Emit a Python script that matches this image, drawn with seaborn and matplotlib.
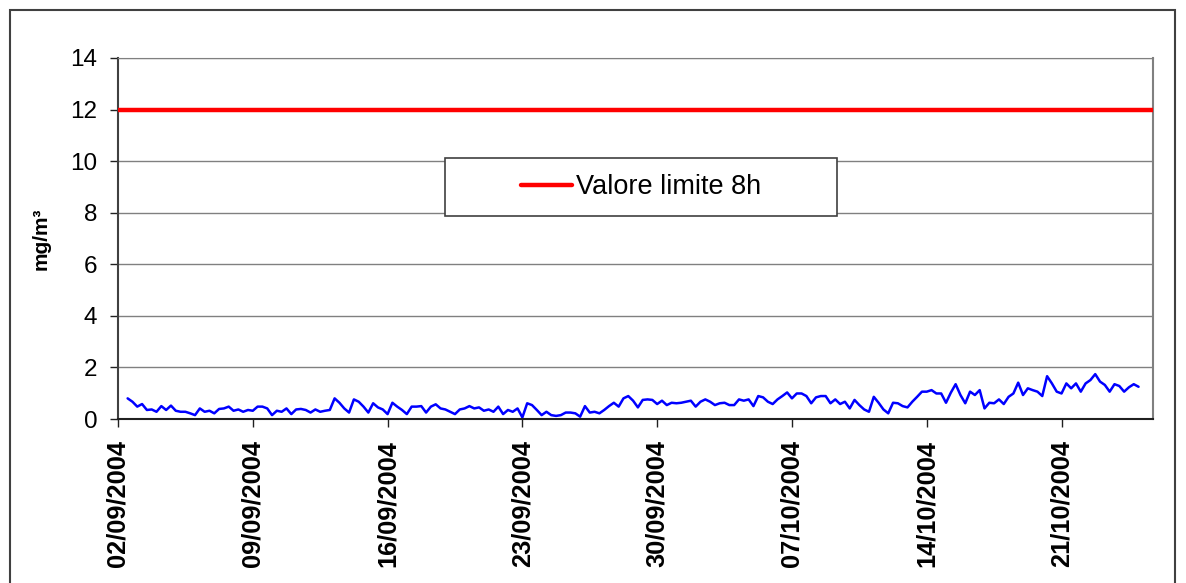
import pandas as pd
import matplotlib
matplotlib.use("Agg")
import matplotlib.pyplot as plt
import matplotlib.dates as mdates
from matplotlib.patches import Rectangle
import seaborn as sns

# 8h mean CO values (mg/m3), read every 6 hours from 02/09/2004 12:00
co_part1 = [0.80, 0.67, 0.48, 0.58, 0.35, 0.37, 0.28, 0.50, 0.35, 0.52,
            0.32, 0.28, 0.28, 0.22, 0.15, 0.41, 0.28, 0.32, 0.22, 0.39,
            0.41, 0.48, 0.32, 0.37, 0.28, 0.35, 0.32, 0.48, 0.48, 0.41,
            0.15, 0.32, 0.28, 0.41, 0.19, 0.37, 0.39, 0.35, 0.25, 0.37,
            0.28]
co_part2 = [0.32, 0.35, 0.80, 0.63, 0.41, 0.25, 0.76, 0.67, 0.48, 0.25,
            0.61, 0.45, 0.37, 0.19, 0.63, 0.48, 0.35, 0.19, 0.48, 0.48,
            0.50, 0.25, 0.48, 0.57, 0.41, 0.37, 0.28, 0.19, 0.37, 0.41,
            0.50, 0.41, 0.45, 0.32, 0.37, 0.28, 0.48, 0.19, 0.35, 0.28,
            0.41, 0.06]
co_part3 = [0.61, 0.54, 0.35, 0.15, 0.28, 0.15, 0.12, 0.15, 0.25, 0.25,
            0.22, 0.09, 0.50, 0.25, 0.28, 0.22, 0.35, 0.50, 0.63, 0.48,
            0.80, 0.89, 0.71, 0.45, 0.74, 0.76, 0.74, 0.58, 0.71, 0.54,
            0.63, 0.61, 0.63, 0.67, 0.71, 0.48, 0.67, 0.76, 0.67, 0.54,
            0.61, 0.63, 0.54]
co_part4 = [0.54, 0.76, 0.71, 0.76, 0.50, 0.89, 0.84, 0.67, 0.58, 0.76,
            0.89, 1.03, 0.80, 0.99, 0.99, 0.89, 0.61, 0.84, 0.89, 0.89,
            0.61, 0.76, 0.58, 0.67, 0.41, 0.74, 0.54, 0.37, 0.28, 0.86,
            0.63, 0.37, 0.22, 0.63, 0.61, 0.50, 0.45, 0.67, 0.86, 1.06,
            1.06, 1.12, 0.99]
co_part5 = [0.99, 0.63, 1.02, 1.35, 0.93, 0.61, 1.06, 0.93, 1.12, 0.41,
            0.63, 0.61, 0.76, 0.58, 0.86, 0.99, 1.41, 0.93, 1.19, 1.12,
            1.06, 0.89, 1.66, 1.38, 1.06, 0.99, 1.38, 1.19, 1.38, 1.06,
            1.38, 1.51, 1.74, 1.45, 1.32, 1.06, 1.35, 1.28, 1.06, 1.23,
            1.35, 1.25]
co_values = co_part1 + co_part2 + co_part3 + co_part4 + co_part5
start_time = "2004-09-02 12:00"
limit_value = 12
limit_label = "Valore limite 8h"
x_start = pd.Timestamp("2004-09-02 00:00")
x_end = pd.Timestamp("2004-10-25 18:00")
tick_dates = pd.date_range("2004-09-02", periods=8, freq="7D")

times = pd.date_range(start_time, periods=len(co_values), freq="6h")
df = pd.DataFrame({"time": times, "co": co_values})
limit_df = pd.DataFrame({"time": [x_start, x_end], "limit": [limit_value, limit_value]})

sns.set_style("white")
plt.rcParams["font.family"] = ["Liberation Sans", "DejaVu Sans"]
plt.rcParams["text.color"] = "black"
plt.rcParams["xtick.color"] = "black"
plt.rcParams["ytick.color"] = "black"
plt.rcParams["axes.labelcolor"] = "black"

W, H = 1186, 583
fig = plt.figure(figsize=(W / 100, H / 100), dpi=100)
ax = fig.add_axes([118 / W, 1 - 419 / H, (1153 - 118) / W, (419 - 58) / H])

sns.lineplot(data=limit_df, x="time", y="limit", ax=ax, color="#ff0000", lw=3.2,
             label=limit_label, zorder=3)
sns.lineplot(data=df, x="time", y="co", ax=ax, color="#0000ff", lw=1.8, zorder=2)

ax.set_xlim(x_start, x_end)
ax.set_ylim(0, 14)
ax.set_yticks(range(0, 15, 2))
ax.set_xticks(tick_dates)
ax.xaxis.set_major_formatter(mdates.DateFormatter("%d/%m/%Y"))
ax.yaxis.grid(True, color="#808080", lw=1)
ax.xaxis.grid(False)

for lab in ax.get_xticklabels():
    lab.set_rotation(90)
    lab.set_fontweight("bold")
    lab.set_fontsize(18.3)
for lab in ax.get_yticklabels():
    lab.set_fontsize(17.5)

ax.tick_params(axis="both", direction="out", length=6, width=1, color="#202020")
ax.tick_params(axis="y", pad=9, left=True)
ax.tick_params(axis="x", pad=9, bottom=True)

ax.set_xlabel("")
ax.set_ylabel("mg/m³", fontsize=15, fontweight="bold", labelpad=14)

ax.spines["top"].set_color("#808080")
ax.spines["right"].set_color("#808080")
ax.spines["right"].set_linewidth(1.5)
ax.spines["left"].set_color("#404040")
ax.spines["bottom"].set_color("#202020")
ax.spines["left"].set_linewidth(1.5)
ax.spines["bottom"].set_linewidth(1.5)

# legend box like the spreadsheet one: wide white frame, entry centred
box_l, box_r, box_t, box_b = 445, 837, 158, 216
ax_w, ax_h = 1153 - 118, 419 - 58
ax.add_patch(Rectangle(((box_l - 118) / ax_w, (419 - box_b) / ax_h),
                       (box_r - box_l) / ax_w, (box_b - box_t) / ax_h,
                       transform=ax.transAxes, facecolor="white",
                       edgecolor="#404040", lw=1.2, zorder=5))
leg = ax.legend(loc="center", bbox_to_anchor=(((box_l + box_r) / 2 - 118) / ax_w,
                                              (419 - (box_t + box_b) / 2) / ax_h),
                frameon=False, fontsize=19.5, handlelength=1.9, handletextpad=0.15)
leg.set_zorder(6)

fig.add_artist(Rectangle((10 / W, -0.05), (1175 - 10) / W, 1.05 - 10 / H,
                         transform=fig.transFigure, fill=False,
                         edgecolor="#404040", lw=1.5))

fig.savefig("out.png", dpi=100)
